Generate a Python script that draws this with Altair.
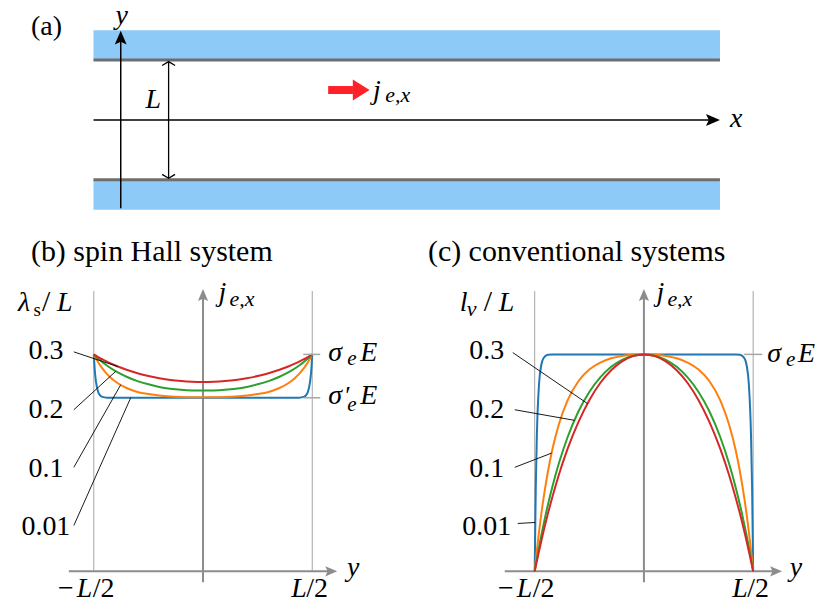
import altair as alt
import pandas as pd

SERIF = "Liberation Serif"

# ---------------- data: current profiles j_{e,x}(y) in units of sigma_e E ----------------
# half profile from y = -L/2 to y = 0 (profiles are symmetric in y)
Y_HALF = [-0.5, -0.495, -0.49, -0.48, -0.47, -0.46, -0.44, -0.42, -0.39,
          -0.35, -0.3, -0.25, -0.2, -0.15, -0.1, -0.05, 0.0]
LAMBDAS = ["0.01", "0.1", "0.2", "0.3"]
COLORS = ["#1f77b4", "#ff7f0e", "#2ca02c", "#d62728"]

SPIN_HALL = {
    "0.01": [1.0, 0.921, 0.874, 0.827, 0.810, 0.804, 0.8005, 0.800, 0.800,
             0.800, 0.800, 0.800, 0.800, 0.800, 0.800, 0.800, 0.800],
    "0.1":  [1.0, 0.990, 0.981, 0.964, 0.948, 0.934, 0.910, 0.890, 0.867,
             0.845, 0.827, 0.817, 0.810, 0.806, 0.804, 0.803, 0.803],
    "0.2":  [1.0, 0.995, 0.990, 0.981, 0.973, 0.964, 0.949, 0.935, 0.917,
             0.897, 0.877, 0.862, 0.850, 0.842, 0.837, 0.834, 0.833],
    "0.3":  [1.0, 0.997, 0.994, 0.988, 0.982, 0.977, 0.967, 0.957, 0.944,
             0.929, 0.913, 0.900, 0.890, 0.882, 0.877, 0.874, 0.873],
}
CONVENTIONAL = {
    "0.01": [0.0, 0.394, 0.632, 0.865, 0.950, 0.982, 0.998, 1.0, 1.0,
             1.0, 1.0, 1.0, 1.0, 1.0, 1.0, 1.0, 1.0],
    "0.1":  [0.0, 0.050, 0.097, 0.184, 0.263, 0.334, 0.457, 0.558, 0.676,
             0.787, 0.876, 0.930, 0.962, 0.982, 0.993, 0.998, 1.0],
    "0.2":  [0.0, 0.029, 0.058, 0.112, 0.164, 0.213, 0.305, 0.387, 0.496,
             0.617, 0.737, 0.827, 0.894, 0.943, 0.975, 0.994, 1.0],
    "0.3":  [0.0, 0.024, 0.048, 0.094, 0.139, 0.182, 0.264, 0.339, 0.443,
             0.563, 0.688, 0.789, 0.868, 0.927, 0.968, 0.992, 1.0],
}
SIGMA_LEVELS = [1.0, 0.8]          # sigma_e E and sigma'_e E
LABEL_ORDER = ["0.3", "0.2", "0.1", "0.01"]


def full_profile(half):
    ys = Y_HALF + [-v for v in reversed(Y_HALF[:-1])]
    js = list(half) + list(reversed(half[:-1]))
    return pd.DataFrame({"u": ys, "j": js})


# ---------------- arrowhead shapes (tip at the anchor point) ----------------
UP = "M0,0 L-0.85,2 L0,1.6 L0.85,2 Z"
RIGHT = "M0,0 L-2,-0.85 L-1.6,0 L-2,0.85 Z"
CHEV_UP = "M-1,0.6 L0,0 L1,0.6"
CHEV_DOWN = "M-1,-0.6 L0,0 L1,-0.6"
FAT_RIGHT = "M0,0 L-1.6,-1 L-1.6,1 Z"


class Panel:
    def __init__(self, xd, yd, width, height):
        self.xd, self.yd = xd, yd
        self.width, self.height = width, height
        self.layers = []

    def X(self, f):
        return alt.X(f, type="quantitative", axis=None,
                     scale=alt.Scale(domain=self.xd, nice=False, zero=False))

    def Y(self, f):
        return alt.Y(f, type="quantitative", axis=None,
                     scale=alt.Scale(domain=self.yd, nice=False, zero=False))

    def seg(self, x0, y0, x1, y1, color="black", width=1.0):
        df = pd.DataFrame({"x0": [x0], "y0": [y0], "x1": [x1], "y1": [y1]})
        self.layers.append(alt.Chart(df).mark_rule(color=color, strokeWidth=width).encode(
            x=self.X("x0"), y=self.Y("y0"), x2="x1", y2="y1"))

    def rect(self, x0, y0, x1, y1, color):
        df = pd.DataFrame({"x0": [x0], "y0": [y0], "x1": [x1], "y1": [y1]})
        self.layers.append(alt.Chart(df).mark_rect(color=color).encode(
            x=self.X("x0"), y=self.Y("y0"), x2="x1", y2="y1"))

    def head(self, x, y, shape, size, color="black", filled=True, sw=1.3):
        df = pd.DataFrame({"x": [x], "y": [y]})
        kw = dict(shape=shape, size=size, color=color, opacity=1, filled=filled)
        kw["strokeWidth"] = sw if not filled else 0
        self.layers.append(alt.Chart(df).mark_point(**kw).encode(x=self.X("x"), y=self.Y("y")))

    def curve(self, df, color):
        self.layers.append(alt.Chart(df).mark_line(
            color=color, strokeWidth=2, interpolate="monotone").encode(
            x=self.X("u"), y=self.Y("j")))

    def txt(self, s, x, y, size=28, italic=False, align="left", color="black"):
        df = pd.DataFrame({"x": [x], "y": [y], "t": [s]})
        kw = dict(align=align, baseline="alphabetic", font=SERIF, fontSize=size, color=color)
        if italic:
            kw["fontStyle"] = "italic"
        self.layers.append(alt.Chart(df).mark_text(**kw).encode(
            x=self.X("x"), y=self.Y("y"), text="t:N"))

    def chart(self):
        return alt.layer(*self.layers).properties(width=self.width, height=self.height)


# ---------------- panel (a): channel sketch ----------------
A = Panel([-0.9333, 5.85], [-0.8875, 0.9208], 814, 217)
STRIP = "#8dcaf7"
A.rect(-0.2275, 0.5, 5.006, 0.75, STRIP)
A.rect(-0.2275, -0.75, 5.006, -0.5, STRIP)
A.seg(-0.2275, 0.5, 5.006, 0.5, "#6e6e6e", 3)
A.seg(-0.2275, -0.5, 5.006, -0.5, "#6e6e6e", 3)
A.seg(-0.2275, 0, 4.96, 0, "black", 1.5)
A.head(5.006, 0, RIGHT, 196)
A.seg(0, -0.7375, 0, 0.70, "black", 1.5)
A.head(0, 0.746, UP, 196)
A.seg(0.4, -0.4875, 0.4, 0.4875, "black", 1.3)
A.head(0.4, 0.4875, CHEV_UP, 169, filled=False)
A.head(0.4, -0.4875, CHEV_DOWN, 169, filled=False)
A.seg(1.733, 0.25, 1.94, 0.25, "#fe2128", 8)
A.head(2.079, 0.25, FAT_RIGHT, 441, color="#fe2128")
A.txt("(a)", -0.75, 0.7125)
A.txt("y", 0.008, 0.804, italic=True, align="center")
A.txt("x", 5.142, -0.0625, italic=True, align="center")
A.txt("L", 0.271, 0.096, italic=True, align="center")
A.txt("j", 2.108, 0.179, italic=True)
A.txt("e,x", 2.21, 0.154, size=22, italic=True)

JD = [-0.1195, 1.5908]
AXG = "#8c8c8c"
LINEG = "#a6a6a6"


def profile_panel(P, profiles, hmin, hmax, labels_leaders, title, ylab_parts, jlab_x):
    P.seg(-0.5, 0, -0.5, 1.292, LINEG, 1)
    P.seg(0.5, 0, 0.5, 1.292, LINEG, 1)
    P.seg(0, -0.0506, 0, 1.27, AXG, 2)
    P.head(0, 1.3011, UP, 144, color=AXG)
    P.seg(hmin, 0, hmax - 0.02, 0, AXG, 2)
    P.head(hmax, 0, RIGHT, 144, color=AXG)
    for lam, col in zip(LAMBDAS, COLORS):
        P.curve(full_profile(profiles[lam]), col)
    for (x0, y0, x1, y1) in labels_leaders:
        P.seg(x0, y0, x1, y1, "black", 0.9)
    P.txt(title[0], title[1], 1.4299, size=30)
    for (s, x, y, size, it) in ylab_parts:
        P.txt(s, x, y, size=size, italic=it)
    for lab, yb in zip(LABEL_ORDER, [0.9793, 0.7080, 0.4368, 0.1655]):
        P.txt(lab, -0.7192, yb, align="center")
    P.txt("j", jlab_x[0], 1.246, italic=True)
    P.txt("e,x", jlab_x[1], 1.223, size=22, italic=True)


# ---------------- panel (b): spin Hall system ----------------
B = Panel([-0.8881, 0.9840], JD, 410, 372)
profile_panel(
    B, SPIN_HALL, -0.6142, 0.6142,
    [(-0.5913, 1.0115, -0.3904, 0.944), (-0.5913, 0.7448, -0.3995, 0.922),
     (-0.5913, 0.4795, -0.3767, 0.860), (-0.5913, 0.2115, -0.331, 0.800)],
    ("(b) spin Hall system", -0.7877),
    [("λ", -0.8470, 1.2, 28, True), ("s", -0.7763, 1.177, 19, False),
     ("/", -0.7374, 1.2, 30, False), ("L", -0.6689, 1.2, 28, True)],
    (0.0708, 0.1210))
for lv in SIGMA_LEVELS:
    B.seg(0.4589, lv, 0.5365, lv, LINEG, 1.5)
B.txt("y", 0.6872, -0.023, italic=True, align="center")
B.txt("−", -0.5913, -0.1195, align="right")
B.txt("L", -0.5776, -0.1195, italic=True)
B.txt("/2", -0.5045, -0.1195)
B.txt("L", 0.4041, -0.1195, italic=True)
B.txt("/2", 0.4726, -0.1195)
B.txt("σ", 0.5731, 0.9701, italic=True)
B.txt("e", 0.6598, 0.9517, size=21, italic=True)
B.txt("E", 0.7192, 0.9701, italic=True)
B.txt("σ", 0.5731, 0.7724, italic=True)
B.txt("′", 0.6507, 0.7724, size=26)
B.txt("e", 0.6598, 0.7402, size=21, italic=True)
B.txt("E", 0.7192, 0.7724, italic=True)

# ---------------- panel (c): conventional systems ----------------
C = Panel([-1.0342, 0.8105], JD, 404, 372)
profile_panel(
    C, CONVENTIONAL, -0.6370, 0.6324,
    [(-0.6005, 1.0083, -0.258, 0.773), (-0.5913, 0.7448, -0.3174, 0.696),
     (-0.5913, 0.4795, -0.4224, 0.545), (-0.5776, 0.2207, -0.4975, 0.2253)],
    ("(c) conventional systems", -0.9886),
    [("l", -0.8425, 1.2, 28, True), ("v", -0.8105, 1.177, 22, True),
     ("/", -0.7329, 1.2, 30, False), ("L", -0.6644, 1.2, 28, True)],
    (0.0571, 0.1073))
C.seg(0.4589, 1.0, 0.5411, 1.0, LINEG, 1.5)
C.txt("y", 0.6963, -0.023, italic=True, align="center")
C.txt("−", -0.5959, -0.1195, align="right")
C.txt("L", -0.5822, -0.1195, italic=True)
C.txt("/2", -0.5091, -0.1195)
C.txt("L", 0.4041, -0.1195, italic=True)
C.txt("/2", 0.4726, -0.1195)
C.txt("σ", 0.5639, 0.9655, italic=True)
C.txt("e", 0.6507, 0.9471, size=21, italic=True)
C.txt("E", 0.7055, 0.9655, italic=True)

bottom = alt.HConcatChart(hconcat=[B.chart(), C.chart()], spacing=0, bounds="flush").resolve_scale(
    x="independent", y="independent")
chart = alt.VConcatChart(
    vconcat=[A.chart(), bottom], spacing=0, bounds="flush",
    padding={"top": -8, "left": 0, "right": 0, "bottom": 0},
).resolve_scale(x="independent", y="independent").configure_view(stroke="transparent")

chart.save("out.html", embed_options={"renderer": "svg", "actions": False})
